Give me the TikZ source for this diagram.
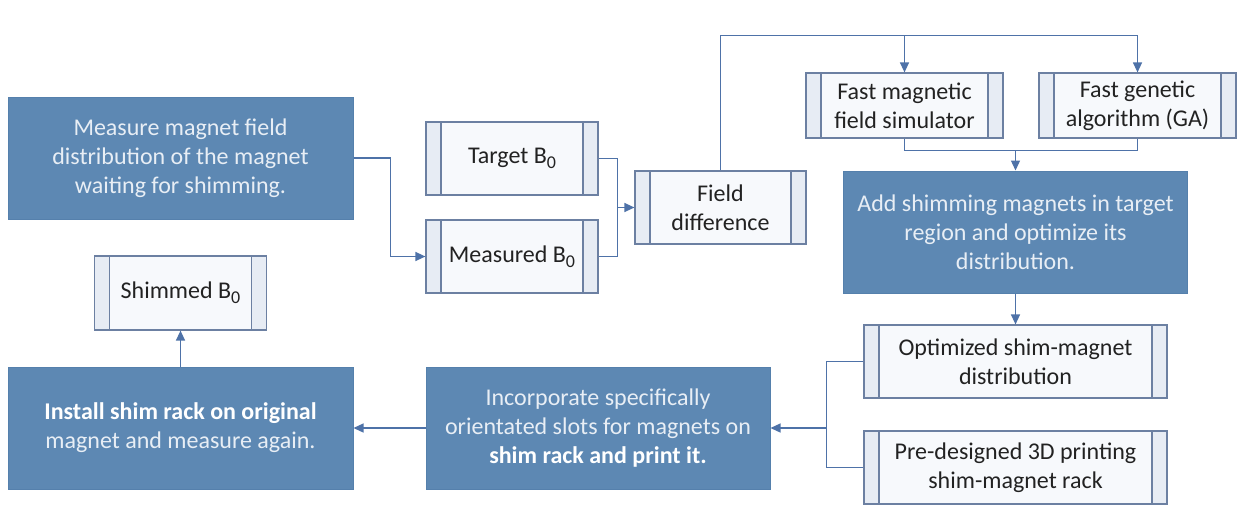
\documentclass[tikz,border=0pt]{standalone}
\usepackage{fontspec}
\setmainfont{Carlito}
\usetikzlibrary{arrows.meta,calc}

\definecolor{darkfill}{HTML}{5D88B3}
\definecolor{darkline}{HTML}{5580AC}
\definecolor{darktext}{HTML}{E8EEF5}
\definecolor{procline}{HTML}{6C80A2}
\definecolor{procfill}{HTML}{F7F9FC}
\definecolor{sidefill}{HTML}{E7ECF4}
\definecolor{conncol}{HTML}{4E72A8}
\definecolor{bodytext}{HTML}{222222}

% field subscript, set larger than \textsubscript
\newcommand{\fieldsub}[1]{\raisebox{-0.22em}{\fontsize{18}{18}\selectfont #1}}

\tikzset{
  x=1pt, y=-1pt,
  boxfont/.style={font=\fontsize{24}{29}\selectfont},
  stepblock/.style={boxfont, draw=darkline, line width=1pt, fill=darkfill,
    text=darktext, align=center, inner sep=0pt,
    minimum width=345pt, minimum height=122pt},
  procbox/.style={boxfont, draw=procline, line width=1.2pt, fill=procfill,
    text=bodytext, align=center, inner sep=0pt, minimum height=73pt,
    path picture={
      \fill[sidefill] (path picture bounding box.south west)
        rectangle ([xshift=15pt]path picture bounding box.north west);
      \fill[sidefill] (path picture bounding box.south east)
        rectangle ([xshift=-15pt]path picture bounding box.north east);
      \draw[procline, line width=1.2pt]
        ([xshift=15pt]path picture bounding box.south west)
        -- ([xshift=15pt]path picture bounding box.north west);
      \draw[procline, line width=1.2pt]
        ([xshift=-15pt]path picture bounding box.south east)
        -- ([xshift=-15pt]path picture bounding box.north east);
    }},
  conn/.style={draw=conncol, line width=1.3pt},
  arr/.style={conn, -{Triangle[length=10pt,width=9pt]}},
}

\begin{document}
\begin{tikzpicture}
  % canvas
  \fill[white] (0,0) rectangle (1244,527);
  \useasboundingbox (0,0) rectangle (1244,527);

  % process blocks
  \node[stepblock] (meas) at (180.5,158) {Measure magnet field\\distribution of the magnet\\waiting for shimming.};
  \node[stepblock, minimum width=344pt] (add) at (1015.5,232) {Add shimming magnets in target\\region and optimize its\\distribution.};
  \node[stepblock, minimum width=344pt] (inc) at (598,428) {Incorporate specifically\\orientated slots for magnets on\\\textcolor{white}{\bfseries shim rack and print it.}};
  \node[stepblock] (inst) at (180.5,428) {\textcolor{white}{\bfseries Install shim rack on original}\\magnet and measure again.};

  % data boxes
  \node[procbox, minimum width=172pt] (target) at (512,158.5) {Target B\fieldsub{0}};
  \node[procbox, minimum width=172pt] (measured) at (512,256.5) {Measured B\fieldsub{0}};
  \node[procbox, minimum width=171pt] (fd) at (720.5,207.5) {Field\\difference};
  \node[procbox, minimum width=197pt, minimum height=65pt] (fms) at (904.5,105.5) {Fast magnetic\\field simulator};
  \node[procbox, minimum width=197pt, minimum height=65pt] (ga) at (1137.5,105.5) {Fast genetic\\algorithm (GA)};
  \node[procbox, minimum width=303pt] (opt) at (1015.5,361.5) {Optimized shim-magnet\\distribution};
  \node[procbox, minimum width=303pt] (pre) at (1015.5,467.5) {Pre-designed 3D printing\\shim-magnet rack};
  \node[procbox, minimum width=172pt, minimum height=74pt] (shim) at (180.5,293) {Shimmed B\fieldsub{0}};

  % measurement into the measured field
  \draw[arr] (meas.east) -- ++(37,0) |- (measured.west);

  % target and measured fields merge into the difference
  \draw[conn] (target.east) -- ++(19,0) coordinate (j1) -- (j1 |- measured.east) -- (measured.east);
  \draw[arr] (j1 |- fd.west) -- (fd.west);

  % difference feeds simulator and GA
  \draw[conn] (fd.north) -- ++(0,-135) coordinate (t1) -- (t1 -| ga.north);
  \draw[arr] (t1 -| fms.north) -- (fms.north);
  \draw[arr] (t1 -| ga.north) -- (ga.north);

  % simulator and GA feed the optimisation
  \draw[conn] (fms.south) -- ++(0,12) coordinate (b1) -- (b1 -| ga.south) -- (ga.south);
  \draw[arr] (b1 -| add.north) -- (add.north);

  \draw[arr] (add.south) -- (opt.north);

  % distribution and rack merge into the rack design
  \draw[conn] (opt.west) -- ++(-37,0) coordinate (j2) -- (j2 |- pre.west) -- (pre.west);
  \draw[arr] (j2 |- inc.east) -- (inc.east);

  \draw[arr] (inc.west) -- (inst.east);
  \draw[arr] (inst.north) -- (shim.south);
\end{tikzpicture}
\end{document}
